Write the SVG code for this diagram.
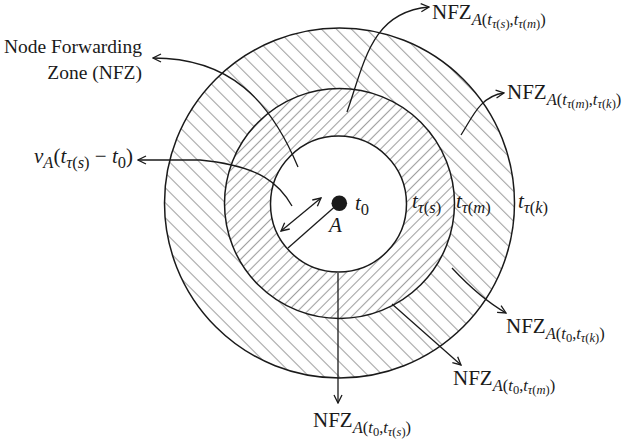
<svg xmlns="http://www.w3.org/2000/svg" width="637" height="443" viewBox="0 0 637 443">
<style>
  text { font-family: "Liberation Serif", "Times New Roman", serif; fill: #1a1a1a; }
  .it { font-style: italic; }
  .up { font-style: normal; }
  .lbl { font-size: 21px; }
  .sub { font-size: 16.5px; }
  .ss { font-size: 12.5px; }
  .ring { stroke: #1a1a1a; stroke-width: 1.5; }
  .conn { fill: none; stroke: #1a1a1a; stroke-width: 1.3; }
  .hatch { stroke: #a0a0a0; stroke-width: 1.1; }
</style>
<defs>
  <pattern id="hatchInner" patternUnits="userSpaceOnUse" width="7" height="7" patternTransform="rotate(45)">
    <line class="hatch" x1="3.5" y1="0" x2="3.5" y2="7"/>
  </pattern>
  <pattern id="hatchOuter" patternUnits="userSpaceOnUse" width="10.6" height="10.6" patternTransform="rotate(-45)">
    <line class="hatch" x1="5.3" y1="0" x2="5.3" y2="10.6"/>
  </pattern>
  <marker id="arr" viewBox="0 0 10 10" refX="9" refY="5" markerWidth="10" markerHeight="10" markerUnits="userSpaceOnUse" orient="auto-start-reverse">
    <path d="M1,1 L9,5 L1,9" fill="none" stroke="#1a1a1a" stroke-width="1.3"/>
  </marker>
</defs>
<rect width="637" height="443" fill="#ffffff"/>

<g id="zone-outer">
  <circle cx="339.5" cy="203" r="175" fill="url(#hatchOuter)" class="ring"/>
</g>
<g id="zone-middle">
  <circle cx="339.5" cy="203.5" r="115" fill="#ffffff"/>
  <circle cx="339.5" cy="203.5" r="115" fill="url(#hatchInner)" class="ring"/>
</g>
<g id="zone-inner">
  <circle cx="338.5" cy="204" r="68" fill="#ffffff" class="ring"/>
</g>
<g id="node-A">
  <circle cx="339.3" cy="203.3" r="7.8" fill="#1a1a1a"/>
  <text class="lbl it" x="355" y="210">t<tspan class="sub up" dy="5">0</tspan></text>
  <text class="lbl it" x="329" y="232">A</text>
</g>

<g id="connectors">
  <path class="conn" d="M339,203 L288,248"/>
  <path class="conn" d="M281,231 L321,198" marker-start="url(#arr)" marker-end="url(#arr)"/>
  <path class="conn" d="M298,167 C270,100 230,58 153,58" marker-end="url(#arr)"/>
  <path class="conn" d="M292,206 C280,185 262,166 200,160 L138,160" marker-end="url(#arr)"/>
  <path class="conn" d="M347,112 C365,60 372,12 429,7" marker-end="url(#arr)"/>
  <path class="conn" d="M461,135 C472,118 480,96 504,93" marker-end="url(#arr)"/>
  <path class="conn" d="M452,268 Q480,298 506,313" marker-end="url(#arr)"/>
  <path class="conn" d="M392,304 L461,365" marker-end="url(#arr)"/>
  <path class="conn" d="M338,273 L338,403" marker-end="url(#arr)"/>
</g>

<g id="label-nfz">
  <text style="font-size:19.5px" x="142" y="53" text-anchor="end">Node Forwarding</text>
  <text style="font-size:19.5px" x="142" y="79" text-anchor="end">Zone (NFZ)</text>
</g>
<g id="label-va">
  <text class="lbl" x="133" y="163" text-anchor="end"><tspan class="it">ν</tspan><tspan class="sub it" dy="5">A</tspan><tspan dy="-5">(</tspan><tspan class="it">t</tspan><tspan class="sub" dy="5"><tspan class="it">τ</tspan>(<tspan class="it">s</tspan>)</tspan><tspan dy="-5"> − </tspan><tspan class="it">t</tspan><tspan class="sub" dy="5">0</tspan><tspan dy="-5">)</tspan></text>
</g>
<g id="label-t">
  <text class="lbl it" x="412" y="208">t<tspan class="sub" dy="5">τ<tspan class="up">(</tspan>s<tspan class="up">)</tspan></tspan></text>
  <text class="lbl it" x="456" y="208">t<tspan class="sub" dy="5">τ<tspan class="up">(</tspan>m<tspan class="up">)</tspan></tspan></text>
  <text class="lbl it" x="518" y="208">t<tspan class="sub" dy="5">τ<tspan class="up">(</tspan>k<tspan class="up">)</tspan></tspan></text>
</g>
<g id="label-nfz-s-m">
  <text class="lbl" x="432" y="19">NFZ<tspan class="sub" dy="6"><tspan class="it">A</tspan>(<tspan class="it">t</tspan></tspan><tspan class="ss" dy="3"><tspan class="it">τ</tspan>(<tspan class="it">s</tspan>)</tspan><tspan class="sub" dy="-3">,<tspan class="it">t</tspan></tspan><tspan class="ss" dy="3"><tspan class="it">τ</tspan>(<tspan class="it">m</tspan>)</tspan><tspan class="sub" dy="-3">)</tspan></text>
</g>
<g id="label-nfz-m-k">
  <text class="lbl" x="507" y="99">NFZ<tspan class="sub" dy="6"><tspan class="it">A</tspan>(<tspan class="it">t</tspan></tspan><tspan class="ss" dy="3"><tspan class="it">τ</tspan>(<tspan class="it">m</tspan>)</tspan><tspan class="sub" dy="-3">,<tspan class="it">t</tspan></tspan><tspan class="ss" dy="3"><tspan class="it">τ</tspan>(<tspan class="it">k</tspan>)</tspan><tspan class="sub" dy="-3">)</tspan></text>
</g>
<g id="label-nfz-0-k">
  <text class="lbl" x="506" y="333">NFZ<tspan class="sub" dy="6"><tspan class="it">A</tspan>(<tspan class="it">t</tspan></tspan><tspan class="ss" dy="3">0</tspan><tspan class="sub" dy="-3">,<tspan class="it">t</tspan></tspan><tspan class="ss" dy="3"><tspan class="it">τ</tspan>(<tspan class="it">k</tspan>)</tspan><tspan class="sub" dy="-3">)</tspan></text>
</g>
<g id="label-nfz-0-m">
  <text class="lbl" x="453" y="385">NFZ<tspan class="sub" dy="6"><tspan class="it">A</tspan>(<tspan class="it">t</tspan></tspan><tspan class="ss" dy="3">0</tspan><tspan class="sub" dy="-3">,<tspan class="it">t</tspan></tspan><tspan class="ss" dy="3"><tspan class="it">τ</tspan>(<tspan class="it">m</tspan>)</tspan><tspan class="sub" dy="-3">)</tspan></text>
</g>
<g id="label-nfz-0-s">
  <text class="lbl" x="313" y="427">NFZ<tspan class="sub" dy="6"><tspan class="it">A</tspan>(<tspan class="it">t</tspan></tspan><tspan class="ss" dy="3">0</tspan><tspan class="sub" dy="-3">,<tspan class="it">t</tspan></tspan><tspan class="ss" dy="3"><tspan class="it">τ</tspan>(<tspan class="it">s</tspan>)</tspan><tspan class="sub" dy="-3">)</tspan></text>
</g>
</svg>
